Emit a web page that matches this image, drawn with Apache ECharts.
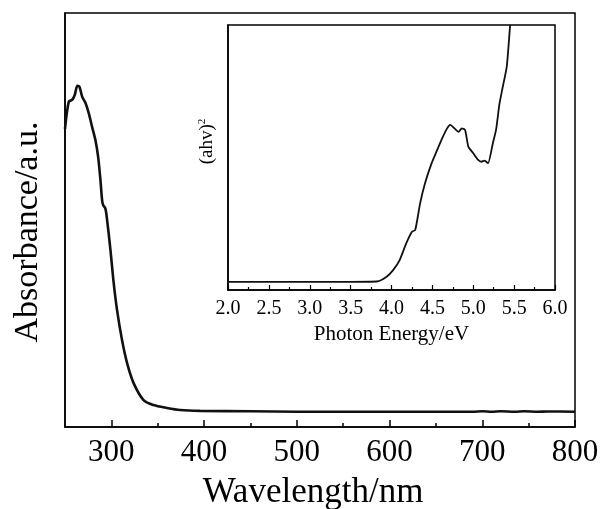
<!DOCTYPE html>
<html>
<head>
<meta charset="utf-8">
<title>absorbance</title>
<script src="https://cdn.jsdelivr.net/npm/echarts@6/dist/echarts.min.js"></script>
<style>
  html, body { margin: 0; padding: 0; background: #fff; }
  #chart { width: 604px; height: 509px; }
</style>
</head>
<body>
<div id="chart"></div>
<script>
  // main spectrum (arbitrary units 0-100)
  var wavelength = [250, 254.1, 257.7, 260.5, 263.4, 265.6, 268.5, 272, 275.6, 279.2, 282.8, 285.7, 288.2, 290, 291.1, 293.5, 295.4, 299, 302.5, 306.1, 311.5, 316.9, 324, 334.7, 345.5, 359.9, 374.2, 395.7, 450, 500, 550, 600, 650, 690, 700, 710, 720, 735, 745, 760, 770, 800];
  var absorbance = [72, 78.6, 79, 80.2, 82.4, 82.2, 79.8, 78.3, 75.8, 72.5, 69.3, 65.3, 59.7, 54.8, 53.6, 52.8, 50, 42.8, 34.8, 28.3, 21, 15.5, 10.6, 6.5, 5.3, 4.6, 4.1, 3.9, 3.8, 3.7, 3.7, 3.7, 3.7, 3.7, 3.8, 3.7, 3.8, 3.7, 3.8, 3.7, 3.75, 3.7];

  // inset: tauc plot
  var energy = [2.0, 3.5, 3.82, 3.94, 4.02, 4.10, 4.18, 4.25, 4.29, 4.35, 4.41, 4.49, 4.55, 4.61, 4.68, 4.72, 4.77, 4.82, 4.86, 4.90, 4.94, 5.00, 5.06, 5.10, 5.14, 5.18, 5.24, 5.28, 5.32, 5.36, 5.41, 5.45, 5.455];
  var ahv2 = [3.1, 3.1, 3.2, 5.0, 7.5, 11.3, 17.6, 22.0, 22.6, 32.7, 40.3, 47.8, 52.2, 56.6, 61.0, 62.3, 61.0, 59.7, 61.0, 60.4, 54.1, 51.6, 49.1, 48.4, 48.8, 47.8, 55.4, 60.6, 70.1, 76.5, 84.3, 99.4, 100];

  var majorTicks = [300, 400, 500, 600, 700, 800];
  var minorTicks = [350, 450, 550, 650, 750];

  var font = 'Liberation Serif';

  function pairs(xs, ys) {
    return xs.map(function (x, i) { return [x, ys[i]]; });
  }

  var myChart = echarts.init(document.getElementById('chart'));
  var option = {
    animation: false,
    backgroundColor: '#fff',
    textStyle: { fontFamily: font, color: '#000' },
    grid: [
      { left: 65, right: 29, top: 13, bottom: 82, outerBoundsMode: 'none', show: true, borderColor: '#000', borderWidth: 1.5 },
      { left: 228, right: 49, top: 25, bottom: 219, outerBoundsMode: 'none', show: true, backgroundColor: '#fff', borderColor: '#000', borderWidth: 1.5 }
    ],
    xAxis: [
      {
        gridIndex: 0, type: 'value', min: 250, max: 800,
        axisLine: { lineStyle: { color: '#000', width: 1.5 } },
        axisTick: { inside: true, length: 7, customValues: majorTicks, lineStyle: { color: '#000', width: 1.5 } },
        axisLabel: { customValues: majorTicks, fontSize: 31, color: '#000', fontFamily: font, margin: 10 },
        splitLine: { show: false },
        name: 'Wavelength/nm', nameLocation: 'middle', nameGap: 48,
        nameTextStyle: { fontSize: 35, color: '#000', fontFamily: font, padding: [0, 14, 0, 0] }
      },
      {
        gridIndex: 0, type: 'value', min: 250, max: 800, position: 'bottom',
        axisLine: { show: false },
        axisTick: { inside: true, length: 4, customValues: minorTicks, lineStyle: { color: '#000', width: 1.5 } },
        axisLabel: { show: false },
        splitLine: { show: false }
      },
      {
        gridIndex: 1, type: 'value', min: 2, max: 6, interval: 0.5,
        axisLine: { lineStyle: { color: '#000', width: 1.5 } },
        axisTick: { inside: true, length: 5, lineStyle: { color: '#000', width: 1.2 } },
        minorTick: { show: true, splitNumber: 2, length: 3, lineStyle: { color: '#000', width: 1.2 } },
        axisLabel: { fontSize: 20, color: '#000', fontFamily: font, margin: 9, formatter: function (v) { return v.toFixed(1); } },
        splitLine: { show: false },
        name: 'Photon Energy/eV', nameLocation: 'middle', nameGap: 31,
        nameTextStyle: { fontSize: 21, color: '#000', fontFamily: font }
      }
    ],
    yAxis: [
      {
        gridIndex: 0, type: 'value', min: 0, max: 100,
        axisLine: { lineStyle: { color: '#000', width: 1.5 } },
        axisTick: { show: false }, axisLabel: { show: false }, splitLine: { show: false },
        name: 'Absorbance/a.u.', nameLocation: 'middle', nameGap: 20, nameRotate: 90,
        nameTextStyle: { fontSize: 34, color: '#000', fontFamily: font, padding: [0, 24, 0, 0] }
      },
      {
        gridIndex: 1, type: 'value', min: 0, max: 100,
        axisLine: { lineStyle: { color: '#000', width: 1.5 } },
        axisTick: { show: false }, axisLabel: { show: false }, splitLine: { show: false },
        name: '(ahv){s|2}', nameLocation: 'middle', nameGap: 10, nameRotate: 90,
        nameTextStyle: {
          fontSize: 19, color: '#000', fontFamily: font, padding: [0, 0, 0, 32],
          rich: { s: { fontSize: 11, fontFamily: font, color: '#000', verticalAlign: 'top', padding: [0, 0, 10, 0] } }
        }
      }
    ],
    series: [
      {
        type: 'line', xAxisIndex: 0, yAxisIndex: 0, showSymbol: false, smooth: 0.3,
        lineStyle: { color: '#111', width: 2.6 },
        data: pairs(wavelength, absorbance)
      },
      {
        type: 'line', xAxisIndex: 2, yAxisIndex: 1, showSymbol: false, smooth: 0.2,
        lineStyle: { color: '#111', width: 1.8 },
        data: pairs(energy, ahv2)
      }
    ]
  };
  myChart.setOption(option);
</script>
</body>
</html>
